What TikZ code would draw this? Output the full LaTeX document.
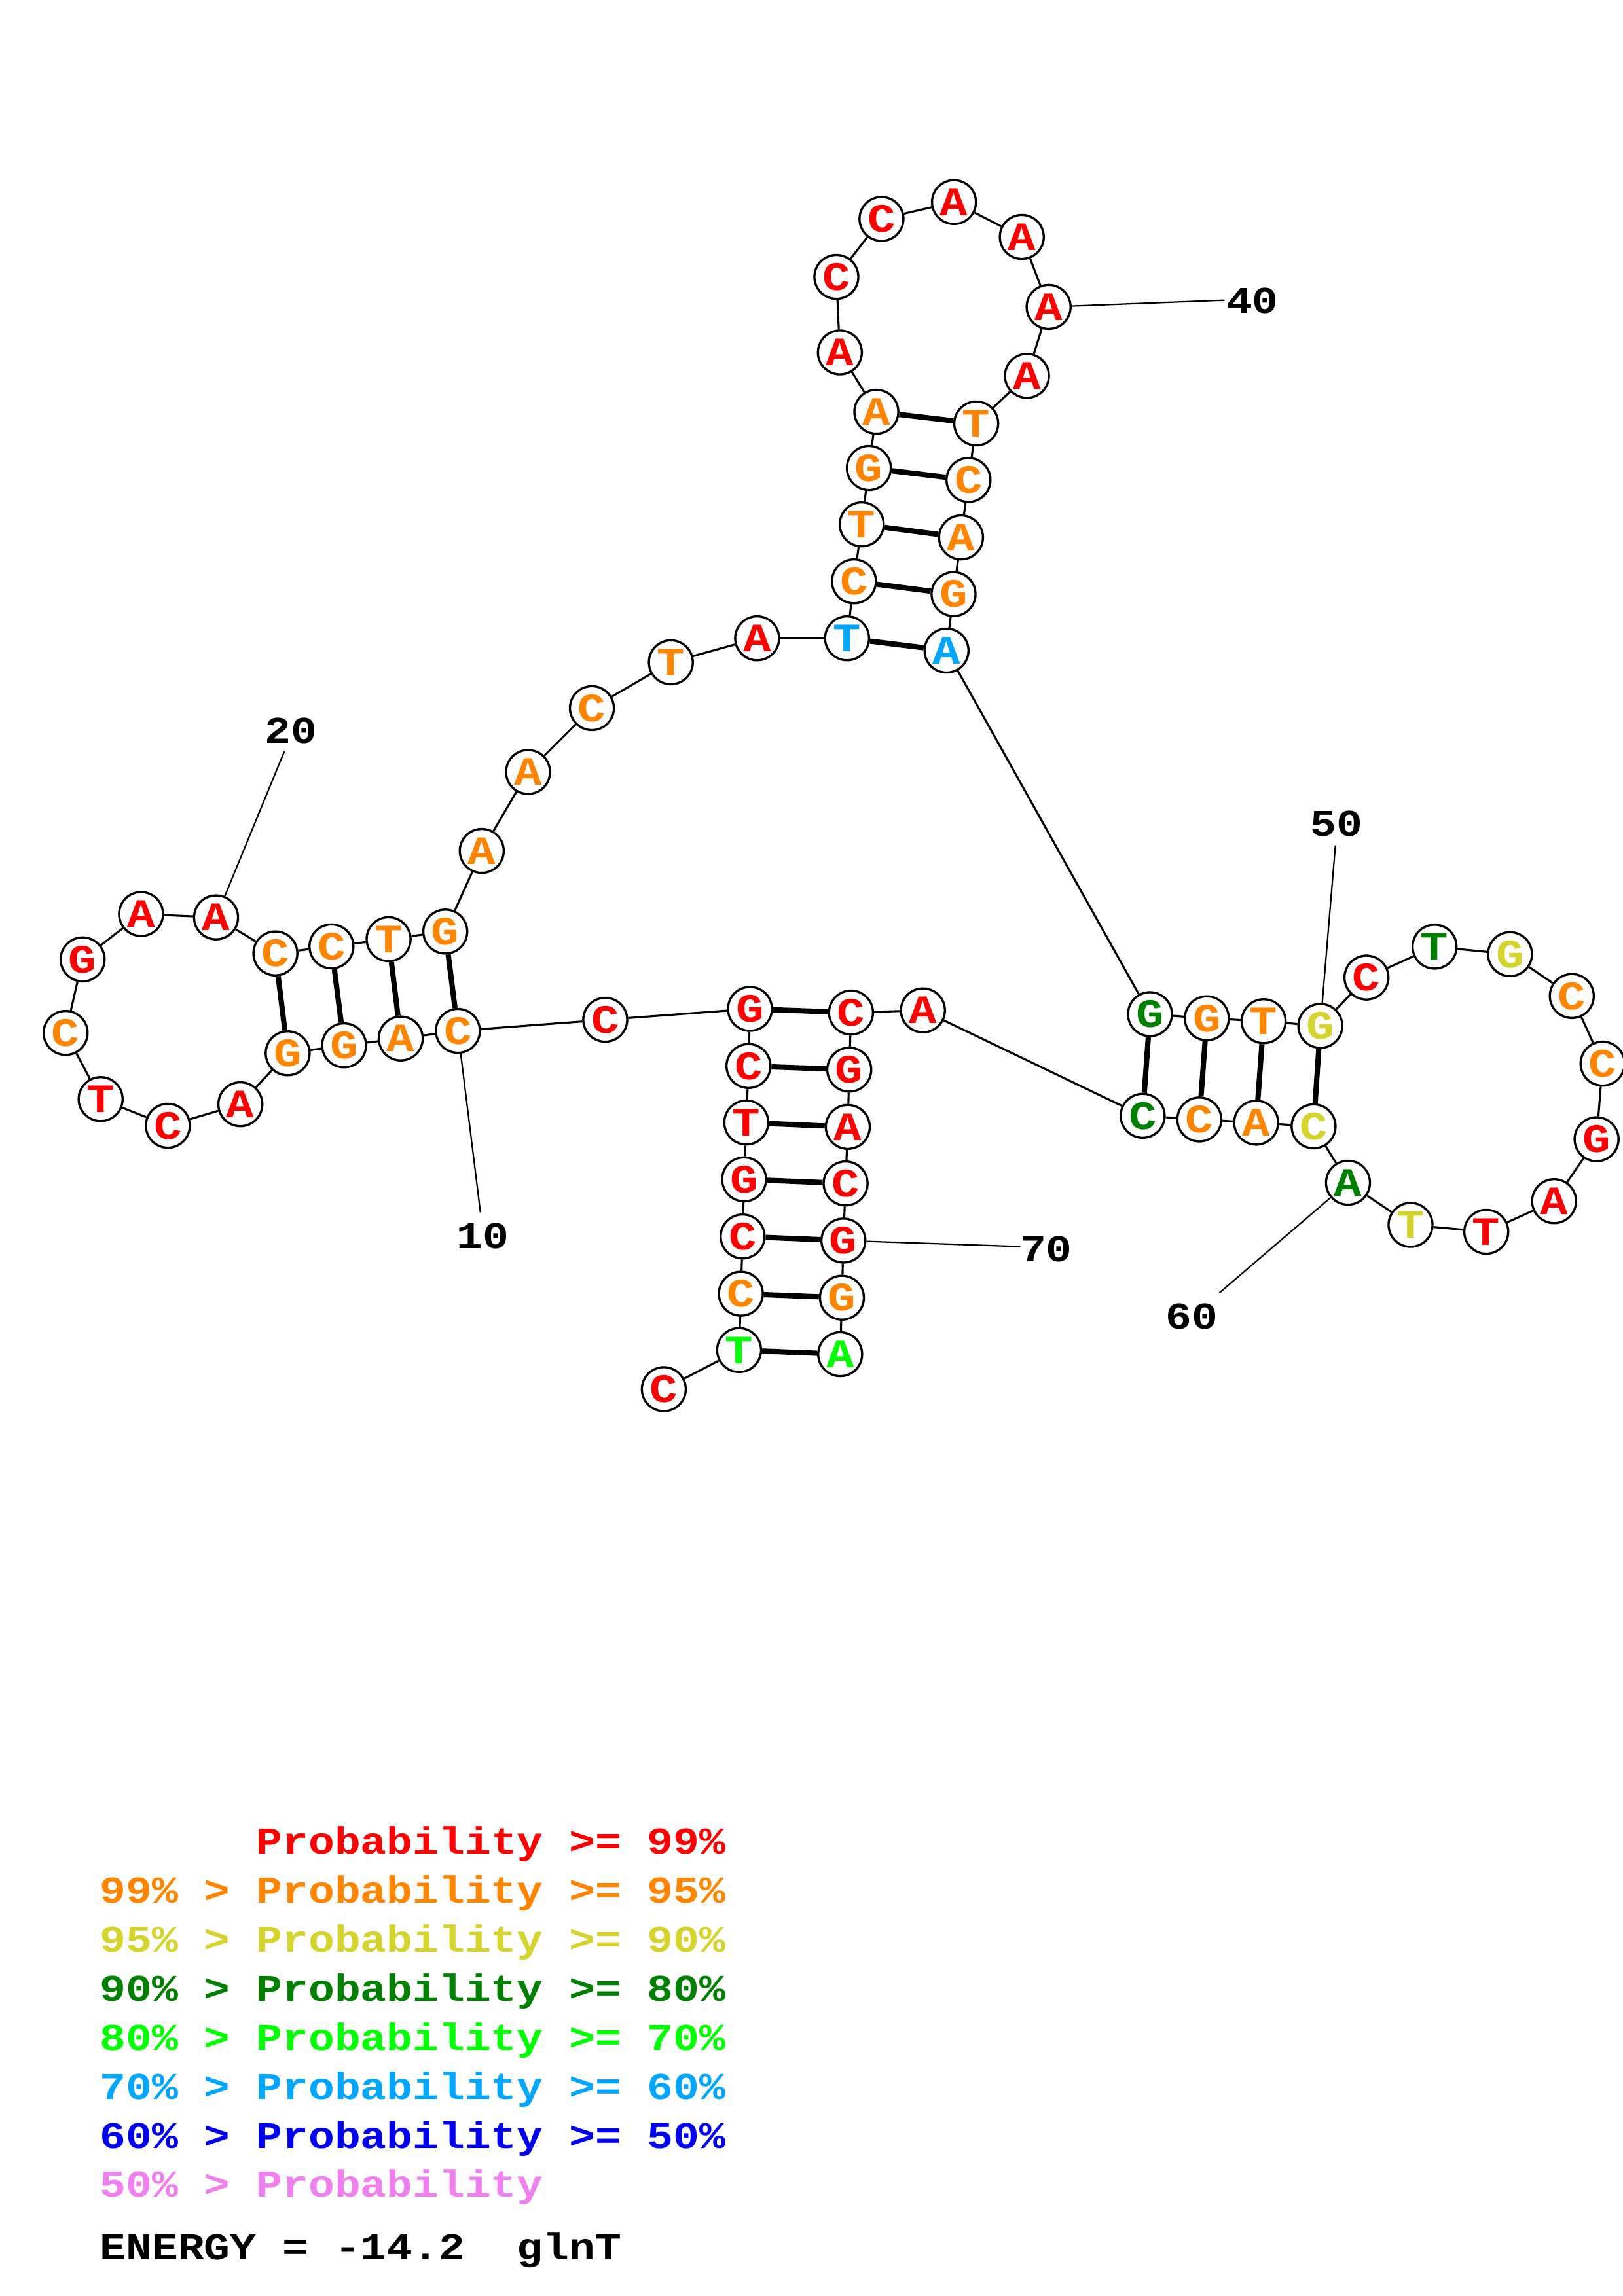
\documentclass[tikz,border=0pt]{standalone}
\usepackage{fontspec}
\newfontfamily\monob{Liberation Mono}[FakeStretch=1.15]
\definecolor{pr}{RGB}{255,0,0}
\definecolor{po}{RGB}{255,133,0}
\definecolor{py}{RGB}{212,212,45}
\definecolor{pd}{RGB}{0,128,0}
\definecolor{pg}{RGB}{0,255,0}
\definecolor{ps}{RGB}{0,166,255}
\definecolor{pb}{RGB}{0,0,240}
\definecolor{pp}{RGB}{240,128,240}
\tikzset{
  nt/.style={circle,draw=black,line width=1.5pt,fill=white,minimum size=30pt,inner sep=0pt,
    font=\monob\bfseries\fontsize{27.5}{28}\selectfont},
  bb/.style={line width=1.4pt},
  bp/.style={line width=3.6pt},
  lbl/.style={line width=1pt},
  numlab/.style={font=\monob\bfseries\fontsize{25.8}{26}\selectfont,inner sep=0pt},
  leg/.style={anchor=base west,inner sep=0pt,font=\monob\bfseries\fontsize{25.8}{26}\selectfont}
}
\begin{document}
\begin{tikzpicture}[x=1pt,y=-1pt]
\useasboundingbox[fill=white] (0,0) rectangle (1108,1568);
\foreach \n/\x/\y/\l/\c in {
1/453.2/948.7/C/pr, 2/504.6/922.0/T/pg, 3/505.8/883.5/C/po, 4/507.0/844.4/C/pr,
5/508.0/805.4/G/pr, 6/509.5/766.6/T/pr, 7/511.0/728.0/C/pr, 8/512.0/689.0/G/pr,
9/413.2/696.4/C/pr, 10/312.6/704.0/C/po, 11/273.6/709.2/A/po, 12/234.9/713.9/G/po,
13/196.4/719.3/G/po, 14/164.1/754.1/A/pr, 15/114.6/768.8/C/pr, 16/68.7/750.6/T/pr,
17/44.8/705.4/C/po, 18/56.4/655.2/G/pr, 19/96.3/624.2/A/pr, 20/147.5/626.5/A/pr,
21/188.0/651.1/C/po, 22/226.3/646.3/C/po, 23/265.3/641.4/T/po, 24/304.0/636.2/G/po,
25/328.9/581.1/A/po, 26/360.5/527.2/A/po, 27/404.1/483.6/C/po, 28/458.0/452.3/T/po,
29/516.9/435.9/A/pr, 30/578.3/435.9/T/ps, 31/583.0/397.0/C/po, 32/588.3/358.1/T/po,
33/593.2/319.6/G/po, 34/598.3/281.2/A/po, 35/573.4/240.7/A/pr, 36/571.0/189.1/C/pr,
37/601.8/149.5/C/pr, 38/651.3/138.0/A/pr, 39/697.6/161.8/A/pr, 40/715.9/209.6/A/pr,
41/701.1/256.7/A/pr, 42/666.5/289.2/T/po, 43/661.2/327.8/C/po, 44/656.1/367.0/A/po,
45/651.0/405.7/G/po, 46/646.2/444.3/A/ps, 47/785.1/692.6/G/pd, 48/823.9/695.4/G/po,
49/862.7/697.4/T/po, 50/901.4/700.6/G/py, 51/932.9/667.6/C/pr, 52/979.4/646.5/T/pd,
53/1030.9/651.6/G/py, 54/1073.1/680.2/C/po, 55/1094.1/726.4/C/po, 56/1090.0/778.0/G/pr,
57/1061.0/820.3/A/pr, 58/1014.7/841.2/T/pr, 59/963.0/836.5/T/py, 60/920.3/807.7/A/pd,
61/896.8/769.2/C/py, 62/857.6/766.7/A/po, 63/818.8/764.5/C/po, 64/780.1/762.0/C/pd,
65/630.1/690.0/A/pr, 66/581.0/691.5/C/pr, 67/579.8/730.5/G/pr, 68/578.8/769.6/A/pr,
69/577.3/808.2/C/pr, 70/575.8/847.2/G/pr, 71/574.8/886.2/G/po, 72/573.6/924.8/A/pg}
  \node[nt,text=\c] (n\n) at (\x,\y) {\l};
% backbone
\foreach \i [evaluate=\i as \j using int(\i+1)] in {1,...,71}
  \draw[bb] (n\i) -- (n\j);
% base pairs
\foreach \a/\b in {2/72,3/71,4/70,5/69,6/68,7/67,8/66,10/24,11/23,12/22,13/21,
  30/46,31/45,32/44,33/43,34/42,47/64,48/63,49/62,50/61}
  \draw[bp] (n\a) -- (n\b);
% number labels
\node[numlab] (l10) at (329.5,844) {10};
\node[numlab] (l20) at (198.8,499) {20};
\node[numlab] (l40) at (855,205.5) {40};
\node[numlab] (l50) at (912.4,562.3) {50};
\node[numlab] (l60) at (813.6,899) {60};
\node[numlab] (l70) at (714.2,853.2) {70};
\coordinate (c10) at (328,828);
\coordinate (c20) at (194.1,513.2);
\coordinate (c40) at (836,205);
\coordinate (c50) at (911.7,577.3);
\coordinate (c60) at (832.4,883);
\coordinate (c70) at (696.6,851.3);
\draw[lbl] (n10) -- (c10);
\draw[lbl] (n20) -- (c20);
\draw[lbl] (n40) -- (c40);
\draw[lbl] (n50) -- (c50);
\draw[lbl] (n60) -- (c60);
\draw[lbl] (n70) -- (c70);
% legend
\node[leg,text=pr] (g1) at (68,1266.0) {\phantom{99\% > }Probability >= 99\%};
\node[leg,text=po] (g2) at (68,1299.5) {99\% > Probability >= 95\%};
\node[leg,text=py] (g3) at (68,1333.0) {95\% > Probability >= 90\%};
\node[leg,text=pd] (g4) at (68,1366.5) {90\% > Probability >= 80\%};
\node[leg,text=pg] (g5) at (68,1400.0) {80\% > Probability >= 70\%};
\node[leg,text=ps] (g6) at (68,1433.5) {70\% > Probability >= 60\%};
\node[leg,text=pb] (g7) at (68,1467.0) {60\% > Probability >= 50\%};
\node[leg,text=pp] (g8) at (68,1500.4) {50\% > Probability};
\node[leg,text=black] (g9) at (68,1543.0) {ENERGY = -14.2~~glnT};
\end{tikzpicture}
\end{document}
